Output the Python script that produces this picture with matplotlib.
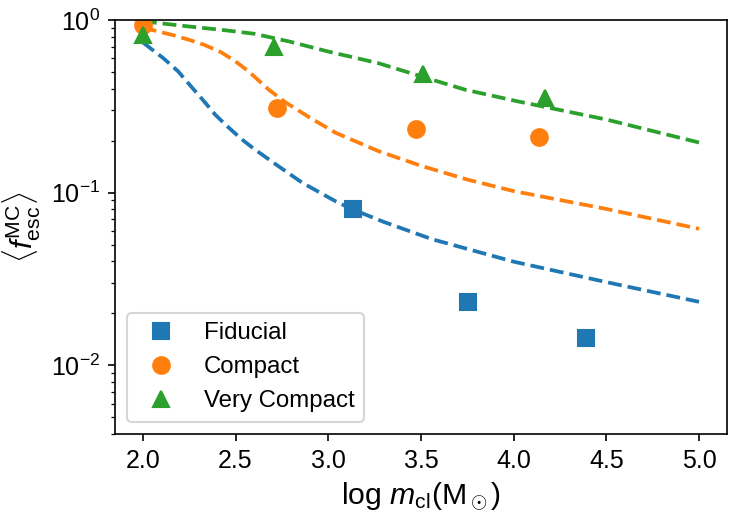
import matplotlib
matplotlib.use("Agg")
import matplotlib.pyplot as plt

plt.rcParams['font.family'] = ['Liberation Sans', 'DejaVu Sans']
plt.rcParams['mathtext.fontset'] = 'custom'
plt.rcParams['mathtext.rm'] = 'Liberation Sans'
plt.rcParams['mathtext.it'] = 'Liberation Sans:italic'
plt.rcParams['mathtext.bf'] = 'Liberation Sans:bold'

# simulation points
fid_x = [3.136, 3.756, 4.389]
fid_y = [0.080, 0.0232, 0.0144]
comp_x = [2.0, 2.725, 3.473, 4.136]
comp_y = [0.93, 0.31, 0.234, 0.209]
vcomp_x = [2.0, 2.708, 3.509, 4.167]
vcomp_y = [0.82, 0.70, 0.488, 0.353]

# model curves (dashed)
fid_line_x = [2.0, 2.11, 2.19, 2.26, 2.33, 2.39, 2.45, 2.53, 2.6, 2.72, 2.86,
              3.04, 3.13, 3.3, 3.56, 4.0, 4.5, 5.0]
fid_line_y = [0.741, 0.601, 0.504, 0.412, 0.338, 0.283, 0.245, 0.205, 0.179,
              0.145, 0.114, 0.089, 0.080, 0.0676, 0.0537, 0.0398, 0.0303, 0.0233]
comp_line_x = [2.0, 2.05, 2.16, 2.25, 2.33, 2.42, 2.5, 2.57, 2.68, 2.77, 2.9,
               3.04, 3.27, 3.5, 3.75, 4.0, 4.5, 5.0]
comp_line_y = [0.902, 0.875, 0.818, 0.767, 0.718, 0.652, 0.575, 0.504, 0.394,
               0.333, 0.272, 0.222, 0.174, 0.143, 0.119, 0.102, 0.0804, 0.0617]
vcomp_line_x = [2.0, 2.25, 2.43, 2.6, 2.79, 3.0, 3.27, 3.51, 3.74, 4.02, 4.5, 5.0]
vcomp_line_y = [0.982, 0.916, 0.875, 0.832, 0.750, 0.656, 0.562, 0.468, 0.394,
                0.338, 0.265, 0.195]

fig = plt.figure(figsize=(4.98, 3.507), dpi=150)
ax = fig.add_axes([0.154, 0.175, 0.819, 0.787])

ax.plot(fid_line_x, fid_line_y, '--', color='C0', lw=1.8)
ax.plot(comp_line_x, comp_line_y, '--', color='C1', lw=1.8)
ax.plot(vcomp_line_x, vcomp_line_y, '--', color='C2', lw=1.8)

ax.plot(fid_x, fid_y, 's', color='C0', ms=8, ls='none', label='Fiducial')
ax.plot(comp_x, comp_y, 'o', color='C1', ms=8, ls='none', label='Compact')
ax.plot(vcomp_x, vcomp_y, '^', color='C2', ms=8, ls='none', label='Very Compact')

ax.set_yscale('log')
ax.set_xlim(1.85, 5.15)
ax.set_ylim(4e-3, 1)
ax.set_xticks([2.0, 2.5, 3.0, 3.5, 4.0, 4.5, 5.0])
ax.tick_params(labelsize=12)

ax.set_xlabel(r'$\log\, m_{\rm cl} ({\rm M_\odot})$', fontsize=14.5)
ax.set_ylabel(r'$\langle f^{\rm MC}_{\rm esc} \rangle$', fontsize=14.5)

ax.legend(loc='lower left', fontsize=11.5, numpoints=1)

fig.savefig('out.png', dpi=150)
